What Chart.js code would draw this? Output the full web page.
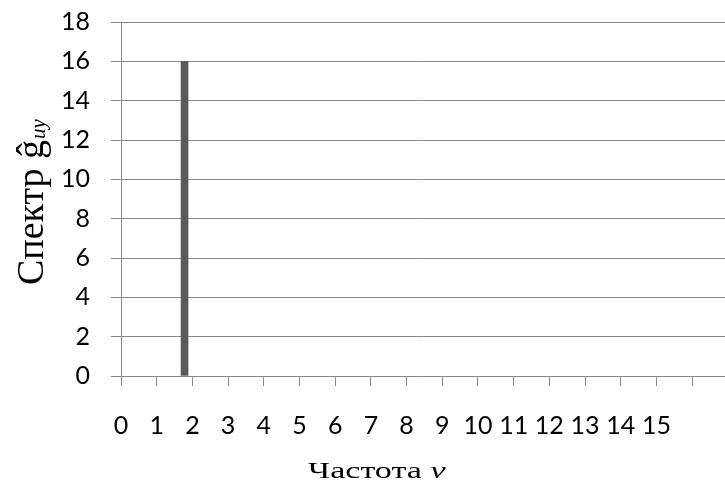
<!DOCTYPE html>
<html>
<head>
<meta charset="utf-8">
<script src="https://cdn.jsdelivr.net/npm/chart.js@4/dist/chart.umd.min.js"></script>
<style>
    html, body { margin: 0; padding: 0; background: #fff; }
    #wrap { width: 725px; height: 489px; }
</style>
</head>
<body>
<div id="wrap"><canvas id="chart" width="725" height="489"></canvas></div>
<script>
// values
const tickLabels = ['0', '1', '2', '3', '4', '5', '6', '7', '8', '9', '10', '11', '12', '13', '14', '15'];
const barFreq = [1.78];
const barValue = [16];
const xTitle = 'Частота ';
const xTitleVar = 'ν';
const yTitle = 'Спектр ĝ';
const yTitleSub = 'uy';

const gridColor = '#8a8a8a';

// axis titles with italic parts and a subscript
const titlePlugin = {
    id: 'titles',
    afterDraw(chart) {
        const ctx = chart.ctx;
        ctx.save();
        ctx.fillStyle = '#000';
        ctx.textBaseline = 'alphabetic';

        // x title (the original is drawn wide)
        ctx.save();
        ctx.translate(308, 478);
        ctx.scale(1.42, 1);
        ctx.font = '24px "Liberation Serif"';
        const w1 = ctx.measureText(xTitle).width;
        ctx.fillText(xTitle, 0, 0);
        ctx.font = 'italic 24px "Liberation Serif"';
        ctx.fillText(xTitleVar, w1, 0);
        ctx.restore();

        // y title, rotated
        ctx.translate(43, 285);
        ctx.rotate(-Math.PI / 2);
        ctx.font = '38px "Liberation Serif"';
        const w3 = ctx.measureText(yTitle).width;
        ctx.fillText(yTitle, 0, 0);
        ctx.font = 'italic 21px "Liberation Serif"';
        ctx.fillText(yTitleSub, w3 + 1, 2);
        ctx.restore();
    }
};

new Chart(
    document.getElementById('chart'),
    {
        type: 'bar',
        data: {
            datasets: [
                {
                    data: barFreq.map((f, i) => ({ x: f, y: barValue[i] })),
                    backgroundColor: '#5a5a5a',
                    barThickness: 7
                }
            ]
        },
        options: {
            responsive: false,
            animation: false,
            layout: { padding: { top: 22, left: 0, right: 0, bottom: 0 } },
            plugins: {
                legend: { display: false },
                tooltip: { enabled: false }
            },
            scales: {
                x: {
                    type: 'linear',
                    min: 0,
                    max: 16.92,
                    offset: false,
                    grid: {
                        offset: false,
                        drawOnChartArea: false,
                        drawTicks: true,
                        tickLength: 10,
                        color: gridColor
                    },
                    border: { color: gridColor },
                    ticks: {
                        stepSize: 1,
                        includeBounds: false,
                        autoSkip: false,
                        maxRotation: 0,
                        padding: 25,
                        color: '#000',
                        font: { family: 'Lato', size: 25 },
                        callback: function(value) {
                            return tickLabels[value] !== undefined ? tickLabels[value] : '';
                        }
                    },
                    afterFit: function(scale) {
                        scale.height = 113;
                        scale.paddingLeft = 0;
                        scale.paddingRight = 0;
                    }
                },
                y: {
                    min: 0,
                    max: 18,
                    grid: {
                        tickLength: 10,
                        color: gridColor
                    },
                    border: { color: gridColor },
                    ticks: {
                        stepSize: 2,
                        padding: 21,
                        color: '#000',
                        font: { family: 'Lato', size: 25 }
                    },
                    afterFit: function(scale) {
                        scale.width = 121;
                        scale.paddingTop = 0;
                        scale.paddingBottom = 0;
                    }
                }
            }
        },
        plugins: [titlePlugin]
    }
);
</script>
</body>
</html>
